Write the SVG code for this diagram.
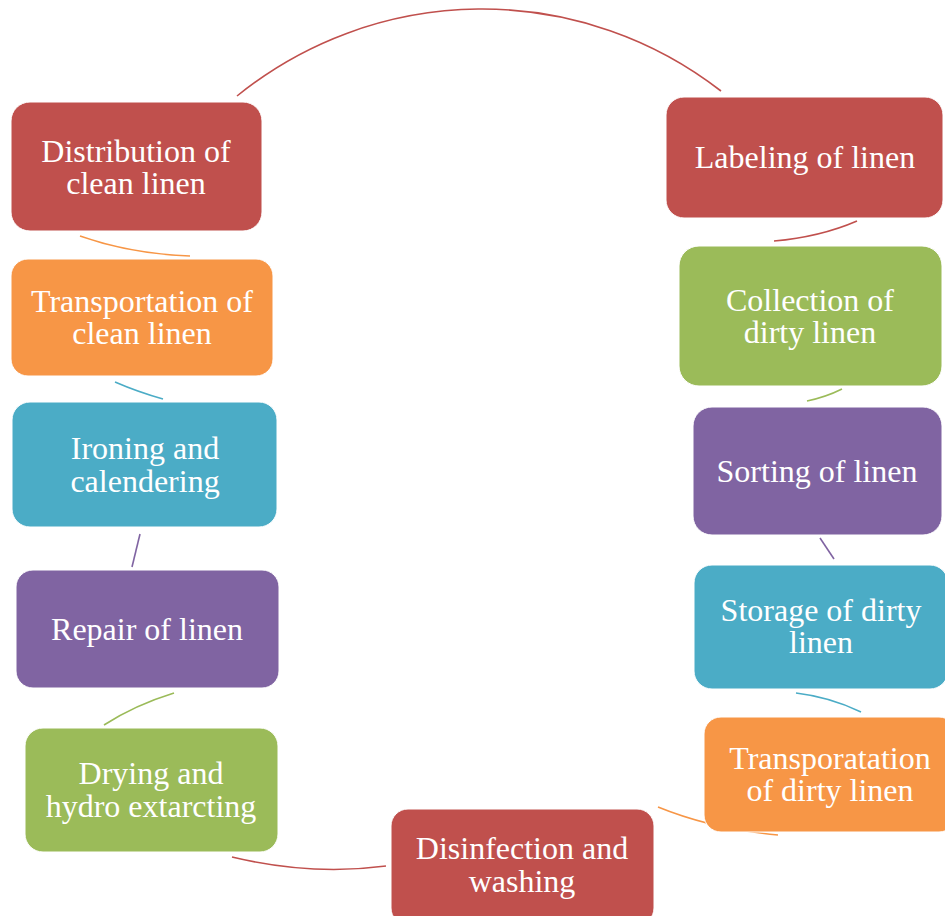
<svg xmlns="http://www.w3.org/2000/svg" width="945" height="916" viewBox="0 0 945 916">
<style>
.box{stroke:#ffffff;stroke-width:1}
.red{fill:#C0504D}.green{fill:#9BBB59}.purple{fill:#8064A2}.blue{fill:#4BACC6}.orange{fill:#F79646}
.t{font-family:"Liberation Serif","Times New Roman",serif;font-size:32px;fill:#ffffff;text-anchor:middle}
.c{fill:none;stroke-width:1.6}
.cr{stroke:#C0504D}.cg{stroke:#9BBB59}.cp{stroke:#8064A2}.cb{stroke:#4BACC6}.co{stroke:#F79646}
</style>
<rect width="945" height="916" fill="#ffffff"/>
<g id="connectors">
<path class="c cr" d="M237,96 A389,389 0 0 1 721,91"/>
<path class="c cr" d="M857,221 Q820,237 774,241"/>
<path class="c cg" d="M842,389 Q826,397 807,401"/>
<path class="c cp" d="M820,538 L834,559"/>
<path class="c cb" d="M796,693 Q830,697 861,712"/>
<path class="c co" d="M778,835 Q712,829 658,807"/>
<path class="c cr" d="M386,866 Q311,876 232,857"/>
<path class="c cg" d="M104,725 Q135,705 174,693"/>
<path class="c cp" d="M132,567 L140,534"/>
<path class="c cb" d="M163,399 Q138,392 115,382"/>
<path class="c co" d="M190,256 Q131,254 80,236"/>
</g>
<g id="labeling">
<rect class="box red" x="666" y="97" width="277" height="121" rx="18"/>
<text class="t" x="805" y="168">Labeling of linen</text>
</g>
<g id="collection">
<rect class="box green" x="679" y="246" width="263" height="140" rx="20"/>
<text class="t" x="810" y="311">Collection of</text>
<text class="t" x="810" y="343">dirty linen</text>
</g>
<g id="sorting">
<rect class="box purple" x="693" y="407" width="249" height="128" rx="19"/>
<text class="t" x="817" y="482">Sorting of linen</text>
</g>
<g id="storage">
<rect class="box blue" x="694" y="565" width="254" height="124" rx="18"/>
<text class="t" x="821" y="621">Storage of dirty</text>
<text class="t" x="821" y="653">linen</text>
</g>
<g id="transport-dirty">
<rect class="box orange" x="704" y="717" width="252" height="115" rx="17"/>
<text class="t" x="830" y="769">Transporatation</text>
<text class="t" x="830" y="801">of dirty linen</text>
</g>
<g id="disinfection">
<rect class="box red" x="391" y="809" width="263" height="116" rx="17"/>
<text class="t" x="522" y="859">Disinfection and</text>
<text class="t" x="522" y="892">washing</text>
</g>
<g id="drying">
<rect class="box green" x="25" y="728" width="253" height="124" rx="18"/>
<text class="t" x="151" y="784">Drying and</text>
<text class="t" x="151" y="817">hydro extarcting</text>
</g>
<g id="repair">
<rect class="box purple" x="16" y="570" width="263" height="118" rx="17"/>
<text class="t" x="147" y="640">Repair of linen</text>
</g>
<g id="ironing">
<rect class="box blue" x="12" y="402" width="265" height="125" rx="18"/>
<text class="t" x="145" y="459">Ironing and</text>
<text class="t" x="145" y="492">calendering</text>
</g>
<g id="transport-clean">
<rect class="box orange" x="11" y="259" width="262" height="117" rx="17"/>
<text class="t" x="142" y="312">Transportation of</text>
<text class="t" x="142" y="344">clean linen</text>
</g>
<g id="distribution">
<rect class="box red" x="11" y="102" width="251" height="129" rx="19"/>
<text class="t" x="136" y="162">Distribution of</text>
<text class="t" x="136" y="194">clean linen</text>
</g>
</svg>
